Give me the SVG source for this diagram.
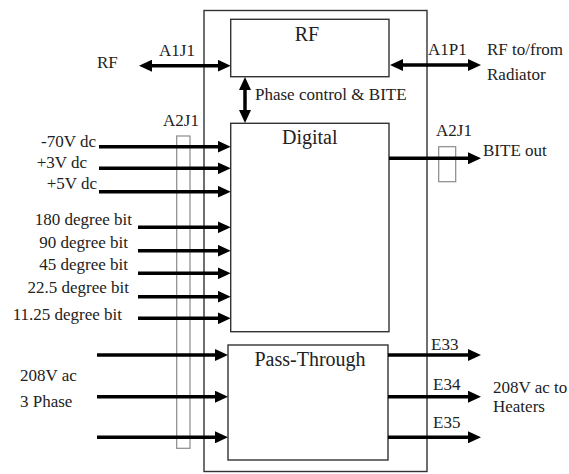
<svg xmlns="http://www.w3.org/2000/svg" width="569" height="474" viewBox="0 0 569 474">
<style>
  .box { fill: #ffffff; stroke: #333333; stroke-width: 1.4; }
  .strip { fill: none; stroke: #8a8a8a; stroke-width: 1.2; }
  .arr { fill: none; stroke: #000000; stroke-width: 3.5; }
  text { font-family: 'Liberation Serif', 'DejaVu Serif', serif; fill: #222222; }
  .lbl { font-size: 17px; }
  .ttl { font-size: 20px; }
  .end { text-anchor: end; }
  .mid { text-anchor: middle; }
</style>
<defs>
  <marker id="ah" markerUnits="userSpaceOnUse" markerWidth="13" markerHeight="12" refX="1" refY="6" orient="auto-start-reverse" viewBox="0 0 13 12">
    <path d="M0,0 L13,6 L0,12 z" fill="#000000"/>
  </marker>
</defs>
<rect width="569" height="474" fill="#ffffff"/>

<g id="outer">
  <rect class="box" x="204" y="10.5" width="223" height="461"/>
</g>
<g id="connector-A2J1-left">
  <rect class="strip" x="176.7" y="136" width="13.3" height="312.3"/>
</g>
<g id="connector-A2J1-right">
  <rect class="strip" x="438.7" y="146.7" width="17" height="35"/>
</g>
<g id="rf">
  <rect class="box" x="230.7" y="19.3" width="158.3" height="57.4"/>
  <text class="ttl mid" x="307" y="41" font-family="Liberation Serif, DejaVu Serif, serif">RF</text>
</g>
<g id="digital">
  <rect class="box" x="230.7" y="123.3" width="158.3" height="208.4"/>
  <text class="ttl" x="282" y="144">Digital</text>
</g>
<g id="passthrough">
  <rect class="box" x="228" y="345" width="160" height="115"/>
  <text class="ttl mid" x="310" y="365.7">Pass-Through</text>
</g>

<g id="connectors">
  <line class="arr" x1="151" y1="65.7" x2="218.7" y2="65.7" marker-start="url(#ah)" marker-end="url(#ah)"/>
  <line class="arr" x1="402" y1="65" x2="469" y2="65" marker-start="url(#ah)" marker-end="url(#ah)"/>
  <line class="arr" x1="245" y1="89" x2="245" y2="111" marker-start="url(#ah)" marker-end="url(#ah)"/>
  <line class="arr" x1="99" y1="146.7" x2="218.7" y2="146.7" marker-end="url(#ah)"/>
  <line class="arr" x1="99" y1="168.3" x2="218.7" y2="168.3" marker-end="url(#ah)"/>
  <line class="arr" x1="99" y1="191.7" x2="218.7" y2="191.7" marker-end="url(#ah)"/>
  <line class="arr" x1="138" y1="227.3" x2="218.7" y2="227.3" marker-end="url(#ah)"/>
  <line class="arr" x1="138" y1="250.7" x2="218.7" y2="250.7" marker-end="url(#ah)"/>
  <line class="arr" x1="138" y1="273.3" x2="218.7" y2="273.3" marker-end="url(#ah)"/>
  <line class="arr" x1="138" y1="296.7" x2="218.7" y2="296.7" marker-end="url(#ah)"/>
  <line class="arr" x1="138" y1="318.3" x2="218.7" y2="318.3" marker-end="url(#ah)"/>
  <line class="arr" x1="97" y1="355" x2="216" y2="355" marker-end="url(#ah)"/>
  <line class="arr" x1="97" y1="396.7" x2="216" y2="396.7" marker-end="url(#ah)"/>
  <line class="arr" x1="97" y1="437.3" x2="216" y2="437.3" marker-end="url(#ah)"/>
  <line class="arr" x1="389" y1="158.3" x2="469" y2="158.3" marker-end="url(#ah)"/>
  <line class="arr" x1="388" y1="355" x2="469" y2="355" marker-end="url(#ah)"/>
  <line class="arr" x1="388" y1="396.7" x2="469" y2="396.7" marker-end="url(#ah)"/>
  <line class="arr" x1="388" y1="437.3" x2="469" y2="437.3" marker-end="url(#ah)"/>
</g>

<g id="labels">
  <text class="lbl" x="97" y="67.5">RF</text>
  <text class="lbl" x="159" y="56">A1J1</text>
  <text class="lbl" x="428" y="55">A1P1</text>
  <text class="lbl" x="487" y="55">RF to/from</text>
  <text class="lbl" x="487" y="80">Radiator</text>
  <text class="lbl" x="255" y="100">Phase control &amp; BITE</text>
  <text class="lbl" x="163" y="126">A2J1</text>
  <text class="lbl" x="436" y="136">A2J1</text>
  <text class="lbl" x="483" y="156">BITE out</text>
  <text class="lbl end" x="96" y="147">-70V dc</text>
  <text class="lbl end" x="87" y="167.7">+3V dc</text>
  <text class="lbl end" x="97" y="188.5">+5V dc</text>
  <text class="lbl end" x="132" y="225">180 degree bit</text>
  <text class="lbl end" x="128" y="247.5">90 degree bit</text>
  <text class="lbl end" x="128" y="270">45 degree bit</text>
  <text class="lbl end" x="129" y="293">22.5 degree bit</text>
  <text class="lbl end" x="122" y="319.5">11.25 degree bit</text>
  <text class="lbl" x="20" y="380.7">208V ac</text>
  <text class="lbl" x="20" y="406.7">3 Phase</text>
  <text class="lbl" x="431" y="350">E33</text>
  <text class="lbl" x="433" y="390">E34</text>
  <text class="lbl" x="433" y="428">E35</text>
  <text class="lbl" x="493" y="393">208V ac to</text>
  <text class="lbl" x="493" y="411.5">Heaters</text>
</g>
</svg>
